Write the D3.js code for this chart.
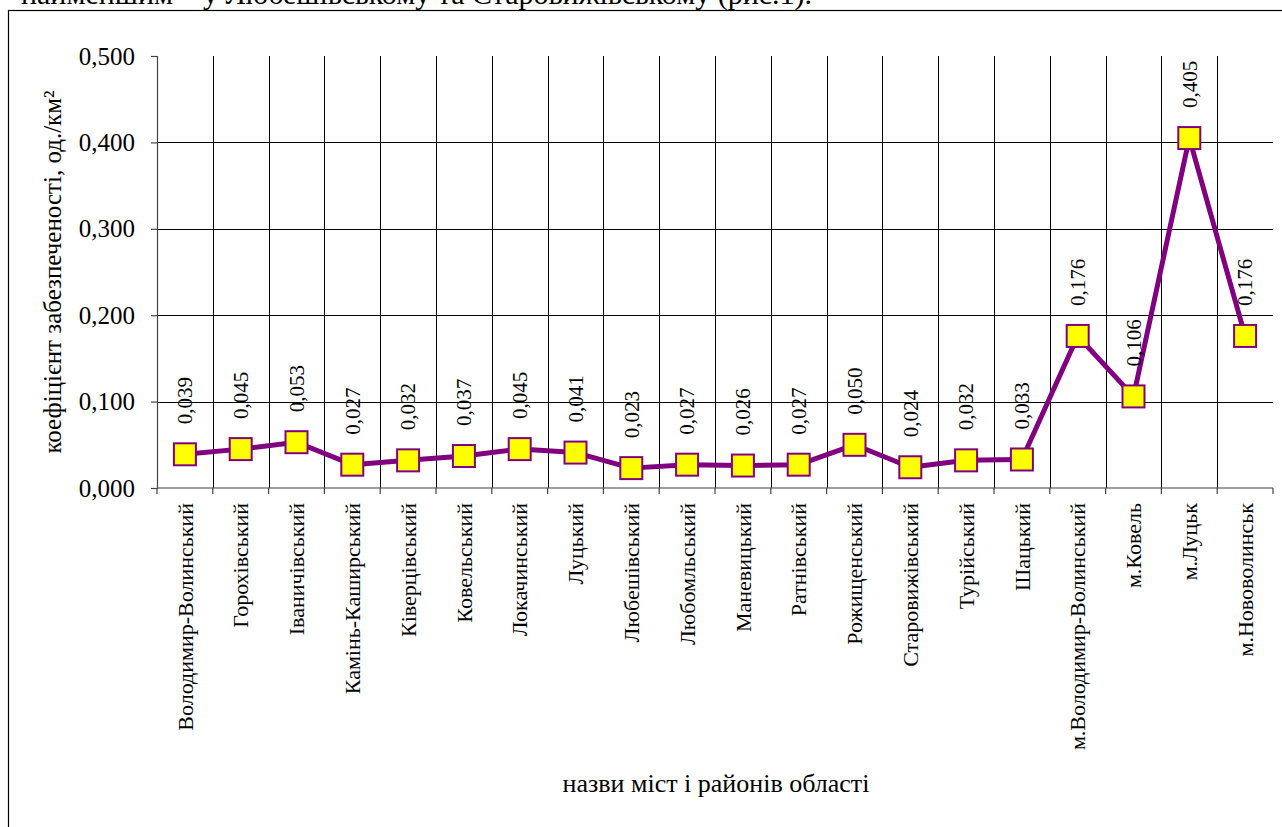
<!DOCTYPE html>
<html>
<head>
<meta charset="utf-8">
<script src="https://cdn.jsdelivr.net/npm/d3@7"></script>
<style>
    body { margin: 0; background: #fff; }
    svg text { font-family: "Liberation Serif", "Times New Roman", "DejaVu Serif", serif; fill: #000; }
    .grid line { stroke: #000; stroke-width: 1; }
    .axis path, .axis line { stroke: #444; stroke-width: 1.2; }
</style>
</head>
<body>
<div id="chart"></div>
<script>
var districts = ["Володимир-Волинський", "Горохівський", "Іваничівський", "Камінь-Каширський",
    "Ківерцівський", "Ковельський", "Локачинський", "Луцький", "Любешівський", "Любомльський",
    "Маневицький", "Ратнівський", "Рожищенський", "Старовижівський", "Турійський", "Шацький",
    "м.Володимир-Волинський", "м.Ковель", "м.Луцьк", "м.Нововолинськ"];
var values = [0.039, 0.045, 0.053, 0.027, 0.032, 0.037, 0.045, 0.041, 0.023, 0.027,
    0.026, 0.027, 0.050, 0.024, 0.032, 0.033, 0.176, 0.106, 0.405, 0.176];
var yTicks = [0, 0.1, 0.2, 0.3, 0.4, 0.5];
var yTitle = "коефіцієнт забезпеченості, од./км²";
var xTitle = "назви міст і районів області";
var topLine = "найменшим – у Любешівському та Старовижівському (рис.1).";

var serif = "'Liberation Serif', 'Times New Roman', 'DejaVu Serif', serif";
var w = 1282, h = 827;
var margin = { top: 56, right: 9, bottom: 339, left: 157 },
    width = w - margin.left - margin.right,
    height = h - margin.top - margin.bottom;

var data = districts.map(function(d, i) { return { name: d, value: values[i] }; });
var comma = function(v) { return d3.format(".3f")(v).replace(".", ","); };

var svg = d3.select("#chart").append("svg")
    .attr("width", w)
    .attr("height", h)
    .attr("font-family", serif);

// text of the page running above the figure, cut off by the screenshot
svg.append("text")
    .attr("x", 21)
    .attr("y", 4)
    .attr("font-family", serif)
    .style("font-size", "30px")
    .text(topLine);

// chart frame
svg.append("rect")
    .attr("x", 8.5)
    .attr("y", 10.5)
    .attr("width", 1290)
    .attr("height", 840)
    .attr("fill", "none")
    .attr("stroke", "#000")
    .attr("stroke-width", 1.2);

var x = d3.scaleBand().domain(districts).range([0, width]),
    y = d3.scaleLinear().domain([0, 0.5]).range([height, 0]);

var g = svg.append("g")
    .attr("transform", "translate(" + margin.left + "," + margin.top + ")");

// horizontal grid (not at the top value)
g.append("g")
    .attr("class", "grid")
    .selectAll("line")
    .data(yTicks.filter(function(t) { return t > 0 && t < 0.5; }))
    .enter().append("line")
    .attr("x1", 0)
    .attr("x2", width)
    .attr("y1", function(d) { return Math.round(y(d)) + 0.5; })
    .attr("y2", function(d) { return Math.round(y(d)) + 0.5; });

// vertical grid on category borders
g.append("g")
    .attr("class", "grid")
    .selectAll("line")
    .data(districts.slice(1))
    .enter().append("line")
    .attr("x1", function(d) { return Math.round(x(d)) + 0.5; })
    .attr("x2", function(d) { return Math.round(x(d)) + 0.5; })
    .attr("y1", 0)
    .attr("y2", height);

// y axis
var yAxis = d3.axisLeft(y).tickValues(yTicks).tickSizeOuter(0).tickSize(6).tickPadding(16).tickFormat(comma);
var yG = g.append("g")
    .attr("class", "axis axis--y")
    .call(yAxis)
    .attr("font-family", serif);
yG.selectAll("text")
    .attr("font-family", serif)
    .style("font-size", "25px");

// x axis, ticks between categories
var xAxisG = g.append("g")
    .attr("class", "axis axis--x")
    .attr("transform", "translate(0," + height + ")");
xAxisG.append("line")
    .attr("x1", 0).attr("x2", width)
    .attr("y1", 0).attr("y2", 0);
xAxisG.selectAll(".tk")
    .data(districts.concat(["end"]))
    .enter().append("line")
    .attr("class", "tk")
    .attr("x1", function(d, i) { return i < districts.length ? x(d) : width; })
    .attr("x2", function(d, i) { return i < districts.length ? x(d) : width; })
    .attr("y1", 0)
    .attr("y2", 6);
xAxisG.selectAll(".lbl")
    .data(districts)
    .enter().append("text")
    .attr("class", "lbl")
    .attr("text-anchor", "end")
    .attr("dy", "0.35em")
    .attr("font-family", serif)
    .style("font-size", "22px")
    .attr("transform", function(d) {
        return "translate(" + (x(d) + x.bandwidth() / 2) + ",15) rotate(-90)";
    })
    .text(function(d) { return d; });

// line
var line = d3.line()
    .x(function(d) { return x(d.name) + x.bandwidth() / 2; })
    .y(function(d) { return y(d.value); });

g.append("path")
    .datum(data)
    .attr("fill", "none")
    .attr("stroke", "#800080")
    .attr("stroke-width", 5)
    .attr("stroke-linejoin", "round")
    .attr("d", line);

// square markers
g.selectAll(".marker")
    .data(data)
    .enter().append("rect")
    .attr("class", "marker")
    .attr("x", function(d) { return x(d.name) + x.bandwidth() / 2 - 11; })
    .attr("y", function(d) { return y(d.value) - 11; })
    .attr("width", 22)
    .attr("height", 22)
    .attr("fill", "#ffff00")
    .attr("stroke", "#800080")
    .attr("stroke-width", 2);

// value labels, rotated
g.selectAll(".val")
    .data(data)
    .enter().append("text")
    .attr("class", "val")
    .attr("dy", "0.35em")
    .attr("font-family", serif)
    .style("font-size", "21px")
    .attr("transform", function(d) {
        return "translate(" + (x(d.name) + x.bandwidth() / 2) + "," + (y(d.value) - 30) + ") rotate(-90)";
    })
    .text(function(d) { return comma(d.value); });

// axis titles
svg.append("text")
    .attr("text-anchor", "middle")
    .attr("dy", "0.35em")
    .attr("font-family", serif)
    .style("font-size", "25px")
    .attr("transform", "translate(52," + (margin.top + height / 2) + ") rotate(-90)")
    .text(yTitle);

svg.append("text")
    .attr("text-anchor", "middle")
    .attr("x", 716)
    .attr("y", 792)
    .attr("font-family", serif)
    .style("font-size", "26px")
    .text(xTitle);
</script>
</body>
</html>
